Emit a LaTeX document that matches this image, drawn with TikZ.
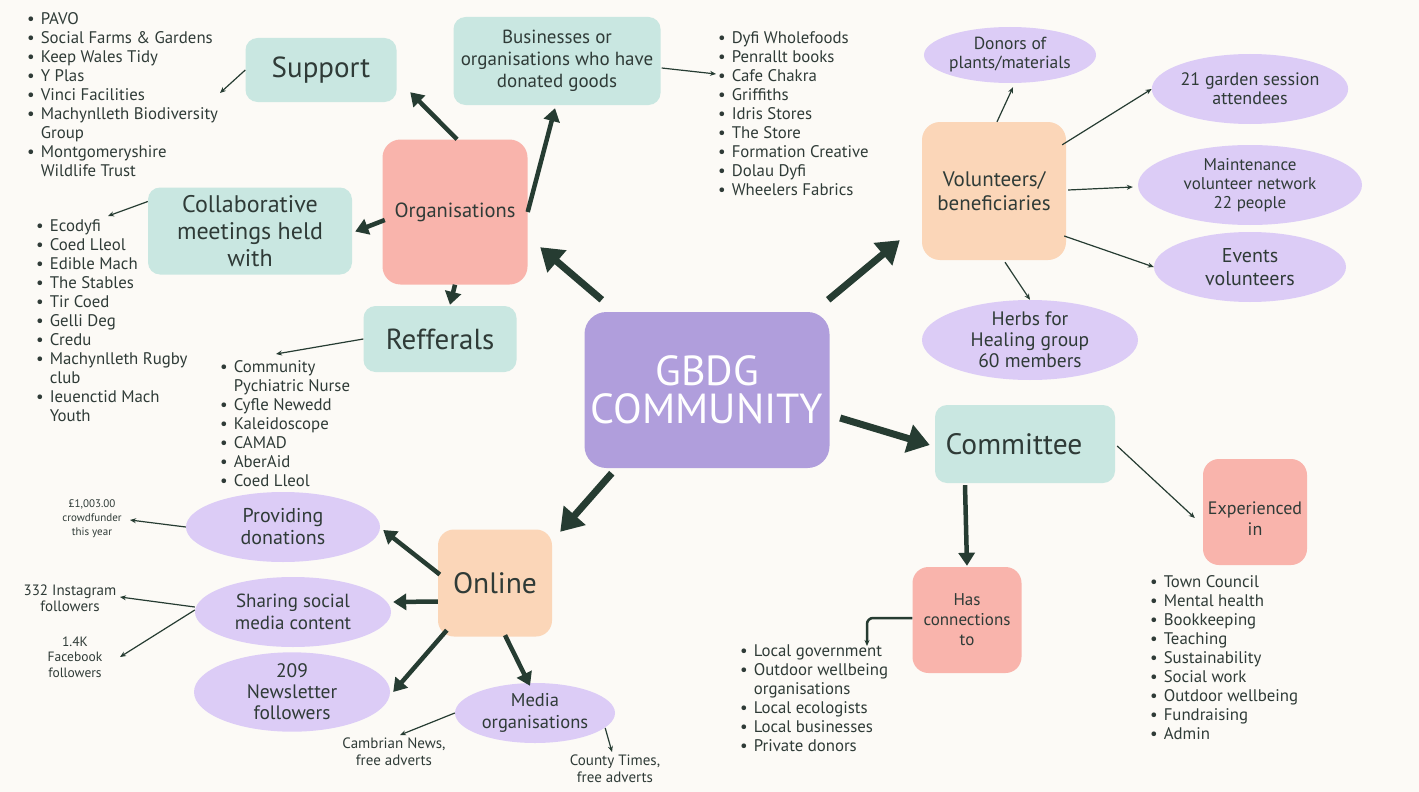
\documentclass[tikz,border=0pt]{standalone}
\usepackage{fontspec}
\setmainfont{PT Sans}
\usetikzlibrary{arrows.meta,shapes.geometric}
\definecolor{bgc}{HTML}{FCFAF6}
\definecolor{tealc}{HTML}{C9E7E1}
\definecolor{pinkc}{HTML}{F9B4AC}
\definecolor{peachc}{HTML}{FBD6B8}
\definecolor{lilac}{HTML}{DCCCF6}
\definecolor{gbdgc}{HTML}{B09EDC}
\definecolor{arrowc}{HTML}{263C32}
\definecolor{inkc}{HTML}{2F3B37}
\newcommand{\fs}[2]{\fontsize{#1}{#2}\selectfont}
\begin{document}
\begin{tikzpicture}[x=1pt,y=-1pt]
    \tikzstyle{box} = [rectangle,rounded corners=12pt,align=center,text=inkc,inner sep=2pt] %box
    \tikzstyle{tb} = [box,fill=tealc] %teal box
    \tikzstyle{pb} = [box,fill=pinkc] %pink box
    \tikzstyle{ob} = [box,fill=peachc] %peach box
    \tikzstyle{el} = [ellipse,fill=lilac,align=center,text=inkc,inner sep=0pt] %ellipse
    \tikzstyle{lst} = [anchor=north west,inner sep=0pt,text=inkc,font=\fs{16.8}{19}] %list
    \tikzstyle{sm} = [align=center,text=inkc,inner sep=0pt] %small label
    \tikzstyle{big} = [draw=arrowc,line width=7pt,-{Triangle[length=22pt,width=28pt]}] %big arrow
    \tikzstyle{mid} = [draw=arrowc,line width=4.5pt,-{Triangle[length=13pt,width=16pt]}] %mid arrow
    \tikzstyle{thn} = [draw=arrowc,line width=1.2pt,-{Stealth[length=6pt,width=5pt]}] %thin arrow
    \fill[bgc] (0,0) rectangle (1419,792);
    \useasboundingbox (0,0) rectangle (1419,792);
    % boxes
    \node[box,fill=gbdgc,text=white,rounded corners=22pt,minimum width=245pt,minimum height=156pt,font=\fs{42}{38}](gbdg)at(707,390){GBDG\\COMMUNITY};
    \node[pb,minimum width=145pt,minimum height=145pt,rounded corners=18pt,font=\fs{20.5}{22}](org)at(455,212){Organisations};
    \node[tb,minimum width=151pt,minimum height=64pt,font=\fs{29}{30}](support)at(321,70){Support};
    \node[tb,minimum width=207pt,minimum height=88pt,font=\fs{19}{22}](business)at(557,61){Businesses or\\organisations who have\\donated goods};
    \node[tb,minimum width=204pt,minimum height=87pt,font=\fs{24}{27}](collab)at(250,231){Collaborative\\meetings held\\with};
    \node[tb,minimum width=153pt,minimum height=66pt,font=\fs{29}{30}](refer)at(440,339){Refferals};
    \node[ob,minimum width=144pt,minimum height=138pt,rounded corners=18pt,font=\fs{21}{24}](volun)at(994,191){Volunteers/\\beneficiaries};
    \node[tb,minimum width=180pt,minimum height=78pt,font=\fs{29.5}{30}](committee)at(1025,444){Committee\hspace*{22pt}};
    \node[pb,minimum width=104pt,minimum height=106pt,rounded corners=16pt,
      label={[yshift=-7pt,align=center,text=inkc,font=\fs{18}{21}]center:Experienced\\in}](exper)at(1255,512){};
    \node[pb,minimum width=109pt,minimum height=106pt,rounded corners=16pt,font=\fs{17}{20}](hascon)at(967,620){Has\\connections\\to};
    \node[ob,minimum width=114pt,minimum height=107pt,rounded corners=16pt,font=\fs{29.5}{30}](online)at(495,583){Online};
    % ellipses
    \node[el,minimum width=154pt,minimum height=56pt,font=\fs{17.5}{19}](donors)at(1010,55){Donors of\\plants/materials};
    \node[el,minimum width=194pt,minimum height=70pt,font=\fs{18}{19}](garden)at(1250,89){21 garden session\\attendees};
    \node[el,minimum width=224pt,minimum height=80pt,font=\fs{17}{19}](maint)at(1250,185){Maintenance\\volunteer network\\22 people};
    \node[el,minimum width=192pt,minimum height=70pt,font=\fs{20}{23}](events)at(1250,267){Events\\volunteers};
    \node[el,minimum width=216pt,minimum height=80pt,font=\fs{19.5}{21}](herbs)at(1030,340){Herbs for\\Healing group\\60 members};
    \node[el,minimum width=194pt,minimum height=70pt,font=\fs{20}{22}](provide)at(283,527){Providing\\donations};
    \node[el,minimum width=196pt,minimum height=70pt,font=\fs{19}{22}](sharing)at(293,612){Sharing social\\media content};
    \node[el,minimum width=196pt,minimum height=72pt,font=\fs{19.5}{21}](newsl)at(292,692){209\\Newsletter\\followers};
    \node[el,minimum width=160pt,minimum height=60pt,font=\fs{18.5}{22}](media)at(535,713){Media\\organisations};
    % lists
    \node[lst](suplist)at(27,11){\begin{tabular}{@{}l@{\hspace{6pt}}l@{}}
      \textbullet & PAVO\\ \textbullet & Social Farms \& Gardens\\ \textbullet & Keep Wales Tidy\\
      \textbullet & Y Plas\\ \textbullet & Vinci Facilities\\ \textbullet & Machynlleth Biodiversity\\
      & Group\\ \textbullet & Montgomeryshire\\ & Wildlife Trust\end{tabular}};
    \node[lst](collist)at(36,218){\begin{tabular}{@{}l@{\hspace{6pt}}l@{}}
      \textbullet & Ecodyfi\\ \textbullet & Coed Lleol\\ \textbullet & Edible Mach\\
      \textbullet & The Stables\\ \textbullet & Tir Coed\\ \textbullet & Gelli Deg\\
      \textbullet & Credu\\ \textbullet & Machynlleth Rugby\\ & club\\
      \textbullet & Ieuenctid Mach\\ & Youth\end{tabular}};
    \node[lst](reflist)at(220,359){\begin{tabular}{@{}l@{\hspace{6pt}}l@{}}
      \textbullet & Community\\ & Pychiatric Nurse\\ \textbullet & Cyfle Newedd\\
      \textbullet & Kaleidoscope\\ \textbullet & CAMAD\\ \textbullet & AberAid\\
      \textbullet & Coed Lleol\end{tabular}};
    \node[lst](buslist)at(718,30){\begin{tabular}{@{}l@{\hspace{6pt}}l@{}}
      \textbullet & Dyfi Wholefoods\\ \textbullet & Penrallt books\\ \textbullet & Cafe Chakra\\
      \textbullet & Griffiths\\ \textbullet & Idris Stores\\ \textbullet & The Store\\
      \textbullet & Formation Creative\\ \textbullet & Dolau Dyfi\\ \textbullet & Wheelers Fabrics\end{tabular}};
    \node[lst](explist)at(1150,574){\begin{tabular}{@{}l@{\hspace{6pt}}l@{}}
      \textbullet & Town Council\\ \textbullet & Mental health\\ \textbullet & Bookkeeping\\
      \textbullet & Teaching\\ \textbullet & Sustainability\\ \textbullet & Social work\\
      \textbullet & Outdoor wellbeing\\ \textbullet & Fundraising\\ \textbullet & Admin\end{tabular}};
    \node[lst](haslist)at(740,643){\begin{tabular}{@{}l@{\hspace{6pt}}l@{}}
      \textbullet & Local government\\ \textbullet & Outdoor wellbeing\\ & organisations\\
      \textbullet & Local ecologists\\ \textbullet & Local businesses\\ \textbullet & Private donors\end{tabular}};
    % small labels
    \node[sm,font=\fs{11}{14}](crowd)at(92,519){£1,003.00\\crowdfunder\\this year};
    \node[sm,font=\fs{15}{16}](insta)at(70,598){332 Instagram\\followers};
    \node[sm,font=\fs{13.5}{15.5}](fb)at(75,657){1.4K\\Facebook\\followers};
    \node[sm,font=\fs{15}{17}](camb)at(394,752){Cambrian News,\\free adverts};
    \node[sm,font=\fs{15}{17}](county)at(615,769){County Times,\\free adverts};
    % free ends
    \coordinate(suptip)at(220,93);
    \coordinate(bustip)at(716,74);
    \coordinate(coltip)at(108,216);
    \coordinate(reftip)at(276,354);
    \coordinate(hastip)at(867,646);
    \coordinate(crowdtip)at(130,520);
    \coordinate(instatip)at(120,597);
    \coordinate(fbtip)at(120,657);
    \coordinate(cambtip)at(400,735);
    \coordinate(countytip)at(612,752);
    % big arrows
    \draw[big]([shift={(17.5,-12)}]gbdg.north west)--([shift={(12.5,-37.5)}]org.south east);
    \draw[big]([shift={(-1.5,-12)}]gbdg.north east)--([shift={(-22,-20)}]volun.south west);
    \draw[big]([shift={(10.5,28)}]gbdg.east)--([shift={(-5,1)}]committee.west);
    \draw[big]([shift={(27.5,5)}]gbdg.south west)--([shift={(8,2.5)}]online.north east);
    % mid arrows
    \draw[mid]([shift={(2,0)}]org.north)--([shift={(13.5,-10)}]support.south east);
    \draw[mid](org.east)--([shift={(-2,3)}]business.south);
    \draw[mid]([shift={(2.5,8)}]org.west)--([shift={(3,0.5)}]collab.east);
    \draw[mid](org.south)--([shift={(10,-1)}]refer.north);
    \draw[mid]([shift={(2,-8.5)}]online.west)--([shift={(3,3)}]provide.east);
    \draw[mid]([shift={(0,18.5)}]online.west)--([shift={(2,-10)}]sharing.east);
    \draw[mid]([shift={(9,-6.5)}]online.south west)--([shift={(3,0)}]newsl.east);
    \draw[mid]([shift={(10,-1.5)}]online.south)--([shift={(-5,3)}]media.north);
    \draw[mid]([shift={(-60,2)}]committee.south)--([shift={(0,-1)}]hascon.north);
    % thin arrows
    \draw[thn](support.west)--(suptip);
    \draw[thn]([shift={(1,7)}]business.east)--(bustip);
    \draw[thn]([shift={(0,-29.5)}]collab.west)--(coltip);
    \draw[thn](refer.west)--(reftip);
    \draw[thn]([shift={(3,0)}]volun.north)--([shift={(3,4)}]donors.south);
    \draw[thn]([shift={(-4,23)}]volun.north east)--(garden.west);
    \draw[thn]([shift={(2,-1)}]volun.east)--([shift={(-5,2)}]maint.west);
    \draw[thn]([shift={(-2,45)}]volun.east)--(events.west);
    \draw[thn]([shift={(11,2)}]volun.south)--(herbs.north);
    \draw[thn]([shift={(2,2)}]committee.east)--([shift={(-8,6)}]exper.west);
    \draw[thn,line width=2.5pt,rounded corners=6pt]([shift={(0,-2)}]hascon.west)-|(hastip);
    \draw[thn](provide.west)--(crowdtip);
    \draw[thn]([shift={(0,-5)}]sharing.west)--(instatip);
    \draw[thn]([shift={(0,-2)}]sharing.west)--(fbtip);
    \draw[thn](media.west)--(cambtip);
    \draw[thn]([shift={(-10,15)}]media.east)--(countytip);
\end{tikzpicture}
\end{document}
